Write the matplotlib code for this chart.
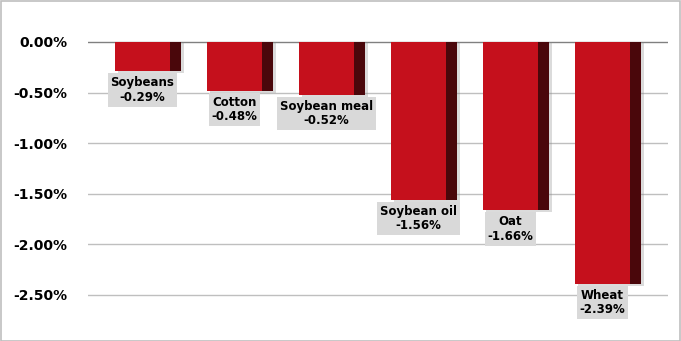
import matplotlib.pyplot as plt
from matplotlib.patches import Rectangle

categories = ['Soybeans', 'Cotton', 'Soybean meal', 'Soybean oil', 'Oat', 'Wheat']
changes = [-0.29, -0.48, -0.52, -1.56, -1.66, -2.39]
yticks = [0.0, -0.5, -1.0, -1.5, -2.0, -2.5]

W, H = 681, 341
fig = plt.figure(figsize=(W / 100, H / 100), dpi=100)
ax = fig.add_axes([88 / W, 1 - 330 / H, (668 - 88) / W, (330 - 10) / H])

px = 101.2  # pixels per 1%
ax.set_ylim(-(330 - 42) / px, (42 - 10) / px)
ax.set_xlim(-0.652, 5.652)

front_color = '#c5101c'
side_color = '#4a070b'
front_w = 0.598
side_w = 0.12
xs = list(range(len(categories)))

for y in yticks:
    ax.axhline(y, color='#808080' if y == 0 else '#bfbfbf', linewidth=1.0, zorder=1)

# drop shadow, side face, front face
ax.bar([x - 0.359 + 0.03 for x in xs], [v - 0.02 for v in changes], width=front_w + side_w,
       align='edge', color='#888888', alpha=0.3, zorder=2)
ax.bar([x + 0.239 for x in xs], changes, width=side_w, align='edge',
       color=side_color, zorder=3)
ax.bar([x - 0.359 for x in xs], changes, width=front_w, align='edge',
       color=front_color, zorder=4)

for x, name, v in zip(xs, categories, changes):
    ax.text(x - 0.06, v - 0.05, f'{name}\n{v:.2f}%', ha='center', va='top',
            fontsize=8.5, fontweight='bold', color='#000000', linespacing=1.15, zorder=5,
            bbox=dict(boxstyle='square,pad=0.25', facecolor='#d9d9d9', edgecolor='none'))

ax.set_yticks(yticks)
ax.set_yticklabels([f'{t:.2f}%' for t in yticks], fontsize=10, fontweight='bold')
ax.tick_params(axis='y', length=0, pad=15)
ax.set_xticks([])
for s in ax.spines.values():
    s.set_visible(False)

fig.patches.append(Rectangle((0.5 / W, 0.5 / H), 1 - 1.5 / W, 1 - 1.5 / H,
                             transform=fig.transFigure, fill=False,
                             edgecolor='#bfbfbf', linewidth=1.2))

fig.savefig('out.png', dpi=100)
